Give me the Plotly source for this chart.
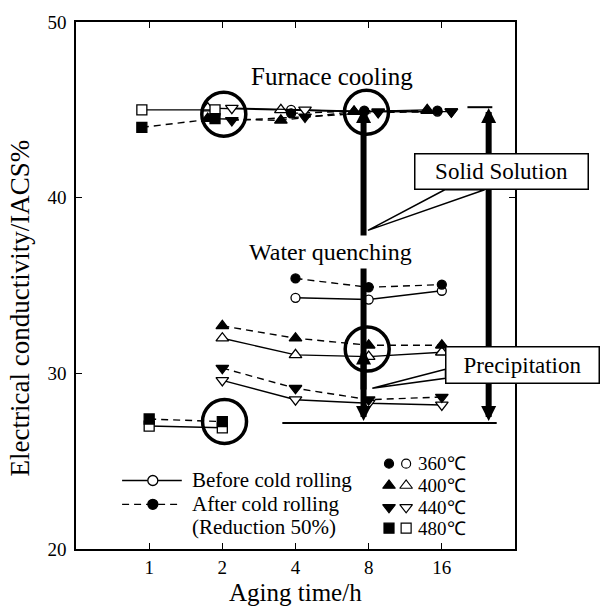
import numpy as np
import plotly.graph_objects as go

# ---------------- data ----------------
times_360 = [4, 8, 16]
times_400 = [2, 4, 8, 16]
times_440 = [2, 4, 8, 16]
times_480 = [1, 2]

# Furnace cooling
fc_before_360 = [45.0, 44.9, 44.9]
fc_after_360 = [44.8, 44.95, 44.95]
fc_before_400 = [45.1, 45.0, 44.9, 45.0]
fc_after_400 = [44.5, 44.4, 44.9, 44.95]
fc_before_440 = [45.1, 45.0, 44.9, 44.9]
fc_after_440 = [44.4, 44.6, 44.85, 44.9]
fc_before_480 = [45.0, 45.0]
fc_after_480 = [44.0, 44.5]

# Water quenching
wq_before_360 = [34.3, 34.2, 34.7]
wq_after_360 = [35.4, 34.9, 35.05]
wq_before_400 = [32.0, 31.05, 30.95, 31.2]
wq_after_400 = [32.7, 32.0, 31.6, 31.6]
wq_before_440 = [29.6, 28.5, 28.3, 28.2]
wq_after_440 = [30.3, 29.15, 28.5, 28.65]
wq_before_480 = [27.0, 26.9]
wq_after_480 = [27.4, 27.25]

tick_times = [1, 2, 4, 8, 16]
temps = ["360℃", "400℃", "440℃", "480℃"]

# ---------------- styles ----------------
FONT = "Liberation Serif"
sym = {"360": "circle", "400": "triangle-up", "440": "triangle-down", "480": "square"}
msize = {"360": 9, "400": 11, "440": 11, "480": 10}
fc_offset = {"360": -0.06, "400": -0.2, "440": 0.13, "480": -0.1}  # log2 units, marker spread
DASH = "7px,5px"

series = [
    ("360", times_360, fc_before_360, fc_after_360, wq_before_360, wq_after_360),
    ("400", times_400, fc_before_400, fc_after_400, wq_before_400, wq_after_400),
    ("440", times_440, fc_before_440, fc_after_440, wq_before_440, wq_after_440),
    ("480", times_480, fc_before_480, fc_after_480, wq_before_480, wq_after_480),
]

fig = go.Figure()


def add_series(t, v, key, filled, offset):
    fig.add_trace(go.Scatter(
        x=np.log2(np.array(t, dtype=float)) + offset, y=v,
        mode="lines+markers",
        line=dict(color="black", width=1.4, dash=DASH if filled else "solid"),
        marker=dict(symbol=sym[key], size=msize[key],
                    color="black" if filled else "white",
                    line=dict(color="black", width=1.3)),
        showlegend=False, hoverinfo="skip"))


for key, t, fb, fa, wb, wa in series:
    add_series(t, fb, key, False, fc_offset[key])
    add_series(t, fa, key, True, fc_offset[key])
for key, t, fb, fa, wb, wa in series:
    add_series(t, wb, key, False, 0.0)
    add_series(t, wa, key, True, 0.0)

# ---------------- legend (overlay axes in 0..1 units) ----------------
fig.add_trace(go.Scatter(x=[0.105, 0.241], y=[0.130, 0.130], mode="lines",
                         line=dict(color="black", width=1.4), xaxis="x2", yaxis="y2",
                         showlegend=False, hoverinfo="skip"))
fig.add_trace(go.Scatter(x=[0.175], y=[0.130], mode="markers",
                         marker=dict(symbol="circle", size=10, color="white",
                                     line=dict(color="black", width=1.3)),
                         xaxis="x2", yaxis="y2", showlegend=False, hoverinfo="skip"))
fig.add_trace(go.Scatter(x=[0.105, 0.241], y=[0.0847, 0.0847], mode="lines",
                         line=dict(color="black", width=1.4, dash=DASH), xaxis="x2", yaxis="y2",
                         showlegend=False, hoverinfo="skip"))
fig.add_trace(go.Scatter(x=[0.175], y=[0.0847], mode="markers",
                         marker=dict(symbol="circle", size=10, color="black",
                                     line=dict(color="black", width=1.3)),
                         xaxis="x2", yaxis="y2", showlegend=False, hoverinfo="skip"))

leg_rows = [0.162, 0.1205, 0.079, 0.0395]
for (key, *_), yy, lab in zip(series, leg_rows, temps):
    fig.add_trace(go.Scatter(x=[0.713], y=[yy], mode="markers",
                             marker=dict(symbol=sym[key], size=msize[key], color="black",
                                         line=dict(color="black", width=1.2)),
                             xaxis="x2", yaxis="y2", showlegend=False, hoverinfo="skip"))
    fig.add_trace(go.Scatter(x=[0.752], y=[yy], mode="markers",
                             marker=dict(symbol=sym[key], size=msize[key], color="white",
                                         line=dict(color="black", width=1.2)),
                             xaxis="x2", yaxis="y2", showlegend=False, hoverinfo="skip"))

annotations = []
for yy, lab in zip(leg_rows, temps):
    annotations.append(dict(x=0.775, y=yy, xref="paper", yref="paper", text=lab,
                            showarrow=False, xanchor="left", yanchor="middle",
                            font=dict(family=FONT, size=19, color="black")))
for yy, lab in [(0.130, "Before cold rolling"), (0.0847, "After cold rolling"),
                (0.0414, "(Reduction 50%)")]:
    annotations.append(dict(x=0.26, y=yy, xref="paper", yref="paper", text=lab,
                            showarrow=False, xanchor="left", yanchor="middle",
                            font=dict(family=FONT, size=21, color="black")))

# ---------------- arrows ----------------
arrow_common = dict(xref="x", yref="y", axref="x", ayref="y", showarrow=True, text="",
                    arrowcolor="black", arrowwidth=6, arrowhead=2, arrowsize=0.5,
                    startarrowhead=2, startarrowsize=0.5, standoff=0, startstandoff=0)
annotations.append(dict(x=2.93, y=45.1, ax=2.93, ay=27.2, arrowside="end+start", **arrow_common))
annotations.append(dict(x=2.93, y=31.35, ax=2.93, ay=29.0, arrowside="end", **arrow_common))
annotations.append(dict(x=4.64, y=45.1, ax=4.64, ay=27.2, arrowside="end+start", **arrow_common))

# ---------------- text labels ----------------
annotations.append(dict(x=2.5, y=46.9, xref="x", yref="y", text="Furnace cooling",
                        showarrow=False, font=dict(family=FONT, size=25, color="black")))
annotations.append(dict(x=2.48, y=36.9, xref="x", yref="y", text="Water quenching",
                        showarrow=False, bgcolor="white", borderpad=3,
                        font=dict(family=FONT, size=24, color="black")))
annotations.append(dict(x=4.82, y=41.47, xref="x", yref="y", text="Solid Solution",
                        showarrow=False, bgcolor="white", bordercolor="black", borderwidth=1.5,
                        width=170, height=32, font=dict(family=FONT, size=23, color="black")))
annotations.append(dict(x=1.016, y=0.349, xref="paper", yref="paper", text="Precipitation",
                        showarrow=False, bgcolor="white", bordercolor="black", borderwidth=1.5,
                        width=150, height=33, xanchor="center", yanchor="middle",
                        font=dict(family=FONT, size=23, color="black")))

# axis titles
annotations.append(dict(x=0.499, y=-0.0825, xref="paper", yref="paper", text="Aging time/h",
                        showarrow=False, xanchor="center", yanchor="middle",
                        font=dict(family=FONT, size=25, color="black")))
annotations.append(dict(x=-0.128, y=0.458, xref="paper", yref="paper",
                        text="Electrical conductivity/IACS%", textangle=-90,
                        showarrow=False, xanchor="center", yanchor="middle",
                        font=dict(family=FONT, size=27, color="black")))

# ---------------- shapes ----------------
shapes = []
for cx, cy in [(1.02, 44.75), (2.97, 44.86), (2.98, 31.38), (1.03, 27.26)]:
    shapes.append(dict(type="circle", xref="x", yref="y", xsizemode="pixel", ysizemode="pixel",
                       xanchor=cx, yanchor=cy, x0=-22, x1=22, y0=-22, y1=22,
                       line=dict(color="black", width=3.5)))
shapes.append(dict(type="line", xref="x", yref="y", x0=1.82, x1=4.75, y0=27.17, y1=27.17,
                   line=dict(color="black", width=2)))
shapes.append(dict(type="line", xref="x", yref="y", x0=4.35, x1=4.69, y0=45.15, y1=45.15,
                   line=dict(color="black", width=2)))
# callout wedges
shapes.append(dict(type="path", xref="x", yref="y",
                   path="M 4.04,40.45 L 2.99,38.14 L 4.585,40.45 Z",
                   fillcolor="white", line=dict(color="black", width=1.5)))
shapes.append(dict(type="path", xref="x", yref="y",
                   path="M 4.05,30.23 L 3.05,29.15 L 4.05,29.72 Z",
                   fillcolor="white", line=dict(color="black", width=1.5)))

fig.update_layout(
    width=601, height=610,
    margin=dict(l=76, r=86, t=18, b=61),
    paper_bgcolor="white", plot_bgcolor="white",
    font=dict(family=FONT, size=19, color="black"),
    showlegend=False,
    xaxis=dict(range=[-1, 5], tickvals=np.log2(tick_times).tolist(),
               ticktext=[str(t) for t in tick_times],
               ticks="inside", ticklen=6, tickwidth=1.2, tickcolor="black",
               showline=True, linecolor="black", linewidth=1.5, mirror="ticks",
               showgrid=False, zeroline=False,
               tickfont=dict(family=FONT, size=19, color="black")),
    yaxis=dict(range=[20, 50], tickvals=[20, 30, 40, 50],
               ticks="inside", ticklen=6, tickwidth=1.2, tickcolor="black",
               showline=True, linecolor="black", linewidth=1.5, mirror="ticks",
               showgrid=False, zeroline=False, ticklabelstandoff=4,
               tickfont=dict(family=FONT, size=19, color="black")),
    xaxis2=dict(overlaying="x", range=[0, 1], visible=False),
    yaxis2=dict(overlaying="y", range=[0, 1], visible=False),
    annotations=annotations,
    shapes=shapes,
)

fig.write_html("out.html")
